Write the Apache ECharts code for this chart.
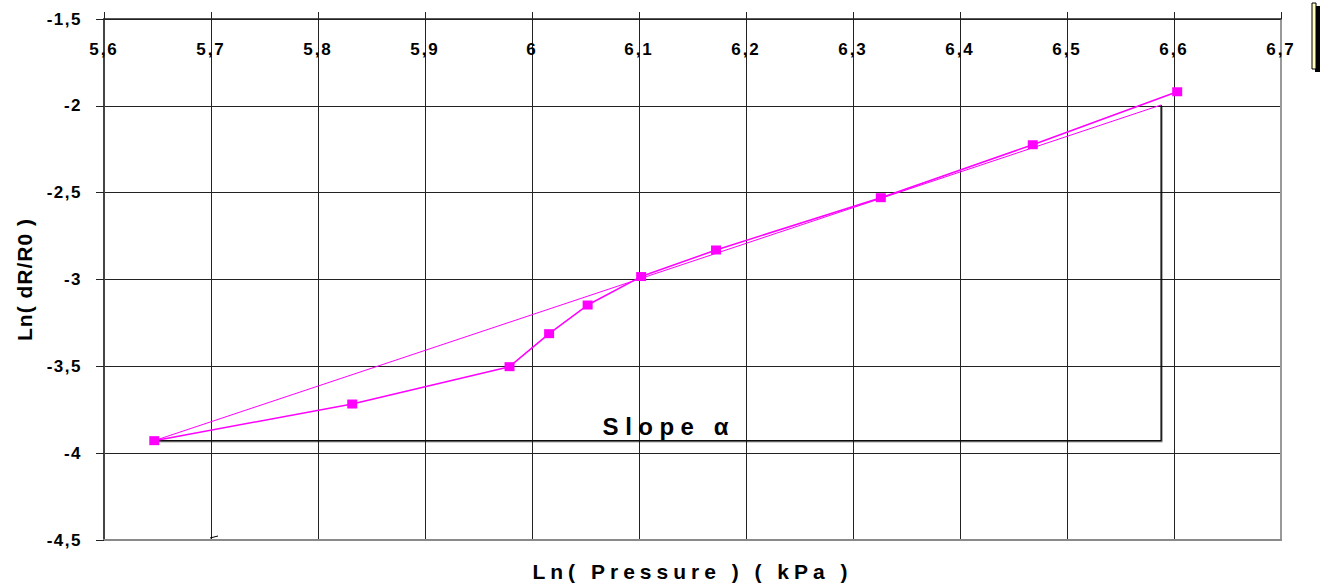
<!DOCTYPE html>
<html>
<head>
<meta charset="utf-8">
<script src="https://cdn.jsdelivr.net/npm/echarts@6/dist/echarts.min.js"></script>
<style>
  html, body { margin: 0; padding: 0; background: #fff; }
  #chart { width: 1324px; height: 588px; }
</style>
</head>
<body>
<div id="chart"></div>
<script>
// ---- data ----
const lnPressure = [5.647, 5.832, 5.979, 6.016, 6.052, 6.102, 6.172, 6.326, 6.468, 6.603];
const lnDR = [-3.928, -3.717, -3.502, -3.312, -3.147, -2.983, -2.830, -2.529, -2.224, -1.919];
const fitX = [5.647, 6.588];
const fitY = [-3.928, -1.995];
const slopeX = [5.647, 6.588, 6.588];
const slopeY = [-3.928, -3.928, -1.995];
const slopeLabel = 'Slope α';
const slopeLabelAnchor = [6.066, -3.913];
const xTitle = 'Ln( Pressure ) ( kPa )';
const yTitle = 'Ln( dR/R0 )';
const xMin = 5.6, xMax = 6.7, xStep = 0.1;
const yMin = -4.5, yMax = -1.5, yStep = 0.5;

const FONT = '"Liberation Sans", Arial, Helvetica, sans-serif';
const zip = (a, b) => a.map((v, i) => [v, b[i]]);
const comma = v => String(+(+v).toFixed(2)).replace('.', ',');

const chart = echarts.init(document.getElementById('chart'), null, { renderer: 'svg' });

const option = {
  animation: false,
  backgroundColor: '#ffffff',
  grid: { left: 104, right: 43, top: 19, bottom: 48, containLabel: false },
  xAxis: [
    {
      type: 'value', position: 'top', min: xMin, max: xMax, interval: xStep,
      axisLine: { show: true, onZero: false, lineStyle: { color: '#222', width: 1.5 } },
      axisTick: { show: true, inside: false, length: 7, lineStyle: { color: '#222' } },
      splitLine: { show: true, lineStyle: { color: '#222', width: 1 } },
      axisLabel: {
        inside: true, margin: 30, verticalAlign: 'middle',
        formatter: comma, color: '#000', fontFamily: FONT, fontWeight: 'bold', fontSize: 17,
        showMinLabel: true, showMaxLabel: true
      }
    },
    {
      type: 'value', position: 'bottom', min: xMin, max: xMax, interval: xStep,
      axisLine: { show: true, onZero: false, lineStyle: { color: '#8a8a8a', width: 2 } },
      axisTick: { show: false }, axisLabel: { show: false }, splitLine: { show: false },
      name: xTitle, nameLocation: 'middle', nameGap: 21,
      nameTextStyle: { color: '#000', fontFamily: FONT, fontWeight: 'bold', fontSize: 21, verticalAlign: 'top' }
    }
  ],
  yAxis: [
    {
      type: 'value', position: 'left', min: yMin, max: yMax, interval: yStep,
      axisLine: { show: true, onZero: false, lineStyle: { color: '#444', width: 2 } },
      axisTick: { show: true, length: 8, lineStyle: { color: '#222' } },
      splitLine: { show: true, lineStyle: { color: '#222', width: 1 } },
      axisLabel: {
        margin: 22, formatter: comma, color: '#000', fontFamily: FONT, fontWeight: 'bold', fontSize: 17,
        showMinLabel: true, showMaxLabel: true
      },
      name: yTitle, nameLocation: 'middle', nameGap: 69, nameRotate: 90,
      nameTextStyle: { color: '#000', fontFamily: FONT, fontWeight: 'bold', fontSize: 21 }
    },
    {
      type: 'value', position: 'right', min: yMin, max: yMax, interval: yStep,
      axisLine: { show: true, onZero: false, lineStyle: { color: '#999', width: 2 } },
      axisTick: { show: false }, axisLabel: { show: false }, splitLine: { show: false }
    }
  ],
  series: [
    {
      name: 'slope', type: 'line', xAxisIndex: 0, yAxisIndex: 0,
      data: zip(slopeX, slopeY), symbol: 'none', silent: true,
      lineStyle: { color: '#111', width: 1.5, shadowColor: 'rgba(0,0,0,0.35)', shadowOffsetX: 1, shadowOffsetY: 1, shadowBlur: 1 },
      z: 2
    },
    {
      name: 'fit', type: 'line', xAxisIndex: 0, yAxisIndex: 0,
      data: zip(fitX, fitY), symbol: 'none', silent: true,
      lineStyle: { color: '#ff00ff', width: 1 },
      z: 3
    },
    {
      name: 'measured', type: 'line', xAxisIndex: 0, yAxisIndex: 0,
      data: zip(lnPressure, lnDR), symbol: 'rect', symbolSize: [10, 9], showAllSymbol: true,
      itemStyle: { color: '#ff00ff' },
      lineStyle: { color: '#ff00ff', width: 1.5 },
      z: 4
    }
  ]
};
chart.setOption(option);

// annotation text placed through the chart's own coordinate system
const p = chart.convertToPixel({ xAxisIndex: 0, yAxisIndex: 0 }, slopeLabelAnchor);
const q = chart.convertToPixel({ xAxisIndex: 0, yAxisIndex: 0 }, [xMin + 0.1, yMin]);
chart.setOption({
  graphic: [
    {
      type: 'text', x: p[0], y: p[1], silent: true, z: 10,
      style: { text: slopeLabel, x: 0, y: 0, align: 'left', verticalAlign: 'bottom',
               fill: '#000', font: 'bold 24px ' + FONT }
    },
    // truncated legend box at the right edge
    { type: 'rect', shape: { x: 1315, y: 6, width: 5, height: 66 }, style: { fill: '#000' }, silent: true },
    { type: 'rect', shape: { x: 1312, y: 3, width: 4, height: 66 }, style: { fill: '#ffffc0', stroke: '#000', lineWidth: 1 }, silent: true },
    // small stray stroke near the bottom axis
    { type: 'line', shape: { x1: q[0] - 1, y1: q[1] - 2, x2: q[0] + 7, y2: q[1] - 4 }, style: { stroke: '#000', lineWidth: 1 }, silent: true }
  ]
});

// letter spacing like the original (applied to the SVG text nodes)
function spacing() {
  document.querySelectorAll('#chart text').forEach(t => {
    const s = t.textContent;
    let ls = null;
    if (s === xTitle) ls = 5;
    else if (s === yTitle) ls = 1;
    else if (s === slopeLabel) ls = 6.5;
    else if (/^-\d/.test(s)) ls = 1.5;
    else if (/^\d/.test(s)) ls = 2;
    if (ls !== null) t.style.letterSpacing = ls + 'px';
  });
}
spacing();
chart.on('finished', spacing);
</script>
</body>
</html>
